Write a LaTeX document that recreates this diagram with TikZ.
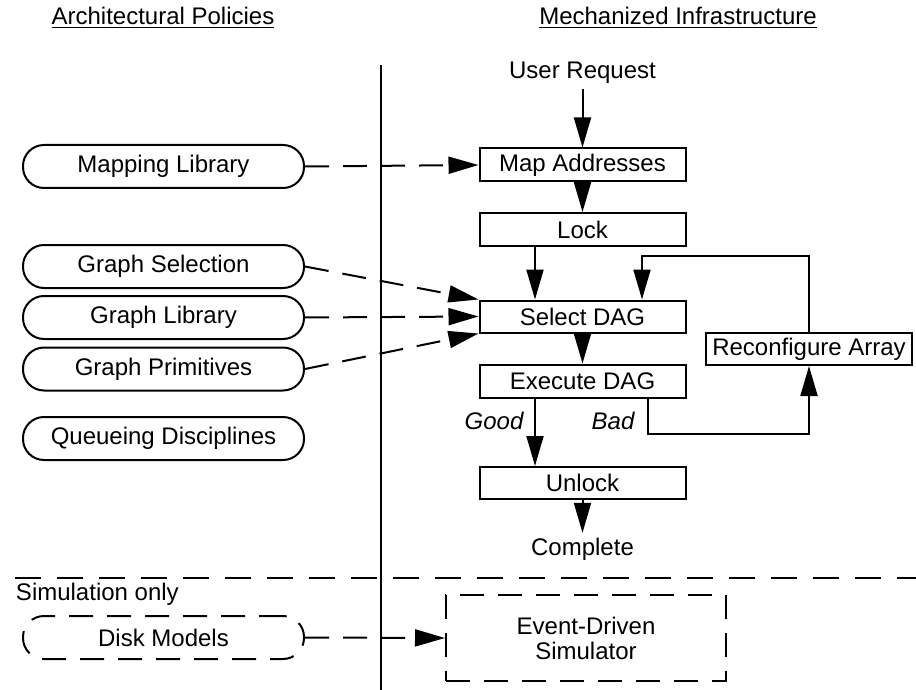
\documentclass[tikz,border=0pt]{standalone}
\usepackage{fontspec}
\setmainfont{Liberation Sans}
\usetikzlibrary{arrows.meta,calc}
\begin{document}
\begin{tikzpicture}[x=0.5pt,y=-0.5pt,
  font=\fontsize{12}{12.5}\selectfont,
  every path/.style={line width=1pt},
  arr/.style={-{Triangle[length=15pt,width=8.5pt]}},
  dsh/.style={dash pattern=on 12pt off 7pt},
  stepbox/.style={draw,minimum width=103pt,minimum height=16.5pt,inner sep=0pt},
  policy/.style={draw,rounded corners=10.5pt,minimum width=140.5pt,minimum height=21.5pt,inner sep=0pt},
  lbl/.style={inner sep=2pt}]
\useasboundingbox (0,0) rectangle (916,690);
% headers
\node (h1) at (163,18) {\underline{Architectural Policies}};
\node (h2) at (678,18) {\underline{Mechanized Infrastructure}};
% divider
\draw (381,65) -- (381,690);
\draw[dash pattern=on 13pt off 8pt] (15,578) -- (916,578);
\node[anchor=west,inner sep=0pt] (sim) at (15,594) {Simulation only};
% infrastructure
\node[lbl] (ur) at (582.5,73) {User Request};
\node[stepbox] (map) at (582.5,165) {Map Addresses};
\node[stepbox] (lock) at (582.5,229.5) {Lock};
\node[stepbox,minimum height=16pt] (sel) at (582.5,316.5) {Select DAG};
\node[stepbox] (exe) at (582.5,381) {Execute DAG};
\node[stepbox,minimum height=16pt] (unl) at (582.5,483) {Unlock};
\node[lbl] (comp) at (582.5,549) {Complete};
\node[stepbox,minimum height=16pt] (rec) at (809,349) {Reconfigure Array};
\node[lbl,font=\fontsize{12}{12.5}\selectfont\itshape] (good) at (494,421) {Good};
\node[lbl,font=\fontsize{12}{12.5}\selectfont\itshape] (bad) at (613,421) {Bad};
% policies
\node[policy] (ml) at (163.5,166.5) {Mapping Library};
\node[policy] (gs) at (163.5,266.5) {Graph Selection};
\node[policy] (gl) at (163.5,317.5) {Graph Library};
\node[policy] (gp) at (163.5,369) {Graph Primitives};
\node[policy] (qd) at (163.5,438.5) {Queueing Disciplines};
\node[policy,dsh] (dm) at (163.5,637.5) {Disk Models};
\node[draw,dsh,minimum width=140pt,minimum height=43pt,align=center,inner sep=0pt] (ev) at (586,638) {Event-Driven\\Simulator};
% connectors
\draw[arr] (ur.south) -- (map.north);
\draw[arr] (map.south) -- (lock.north);
\draw[arr] ($(lock.south)+(-47.5,0)$) -- ($(sel.north)+(-47.5,0)$);
\draw[arr] (sel.south) -- (exe.north);
\draw[arr] ($(exe.south)+(-47.5,0)$) -- ($(unl.north)+(-47.5,0)$);
\draw[arr] (unl.south) -- (comp.north);
\coordinate (fb) at (642,256);
\draw[arr] (rec.north) |- (fb) -- (fb |- sel.north);
\coordinate (bd) at (648,434);
\draw[arr] (bd |- exe.south) -- (bd) -| (rec.south);
\draw[arr,dsh] (ml.east) -- (map.west);
\draw[arr,dsh] (gs.east) -- (sel.north west);
\draw[arr,dsh] (gl.east) -- (sel.west);
\draw[arr,dsh] (gp.east) -- (sel.south west);
\draw[arr,dsh] (dm.east) -- (ev.west);
\end{tikzpicture}
\end{document}
